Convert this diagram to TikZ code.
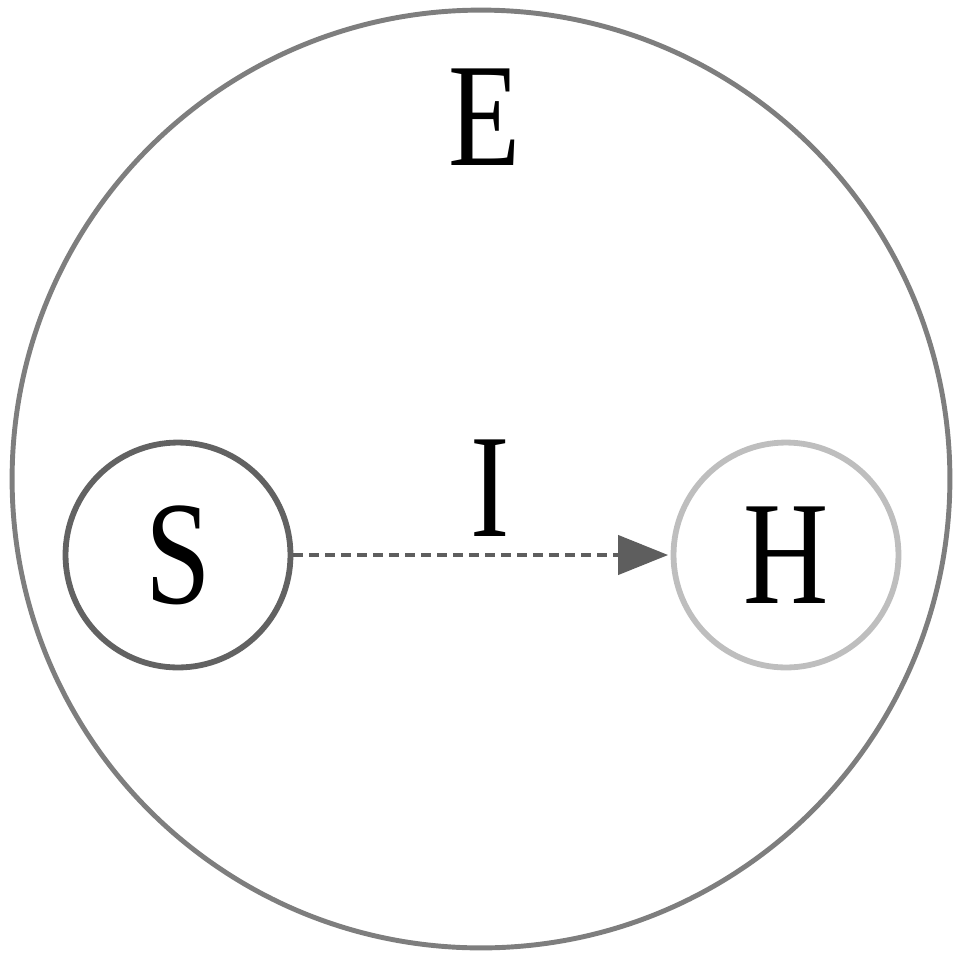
\documentclass[tikz,border=0pt]{standalone}
\usepackage{fontspec}
\setmainfont{Liberation Serif}[FakeStretch=0.8]
\usetikzlibrary{positioning,arrows.meta}
\definecolor{grisentorno}{HTML}{7E7E7E}
\definecolor{grisfuente}{HTML}{626262}
\definecolor{grisclaro}{HTML}{BEBEBE}
\definecolor{grisflecha}{HTML}{5E5E5E}

\tikzset{
  entorno/.style={circle, draw=grisentorno, line width=2.8pt, minimum size=18.76cm, inner sep=0pt},
  agente/.style={circle, line width=3.3pt, minimum size=4.5cm, inner sep=0pt},
  letra/.style={font=\fontsize{84}{84}\selectfont, inner sep=0pt},
  flujo/.style={grisflecha, line width=2.4pt, dash pattern=on 0.2cm off 0.12cm,
    -{Triangle[length=1cm, width=0.78cm]}, shorten >=0.05cm}
}

\begin{document}
\begin{tikzpicture}[x=0.02cm, y=-0.02cm]
        \useasboundingbox (0,0) rectangle (953,958);
        \node[entorno] (env) at (481,479) {};
        \node[letra] (E) at (485,117) {E};
        \node[agente, draw=grisfuente, letra] (src) at (178,555) {S};
        \node[agente, draw=grisclaro, letra] (hst) at (786,555) {H};
        \node[letra] (I) at (490,488) {I};
        \draw[flujo] (src) -- (hst);
      \end{tikzpicture}
\end{document}
